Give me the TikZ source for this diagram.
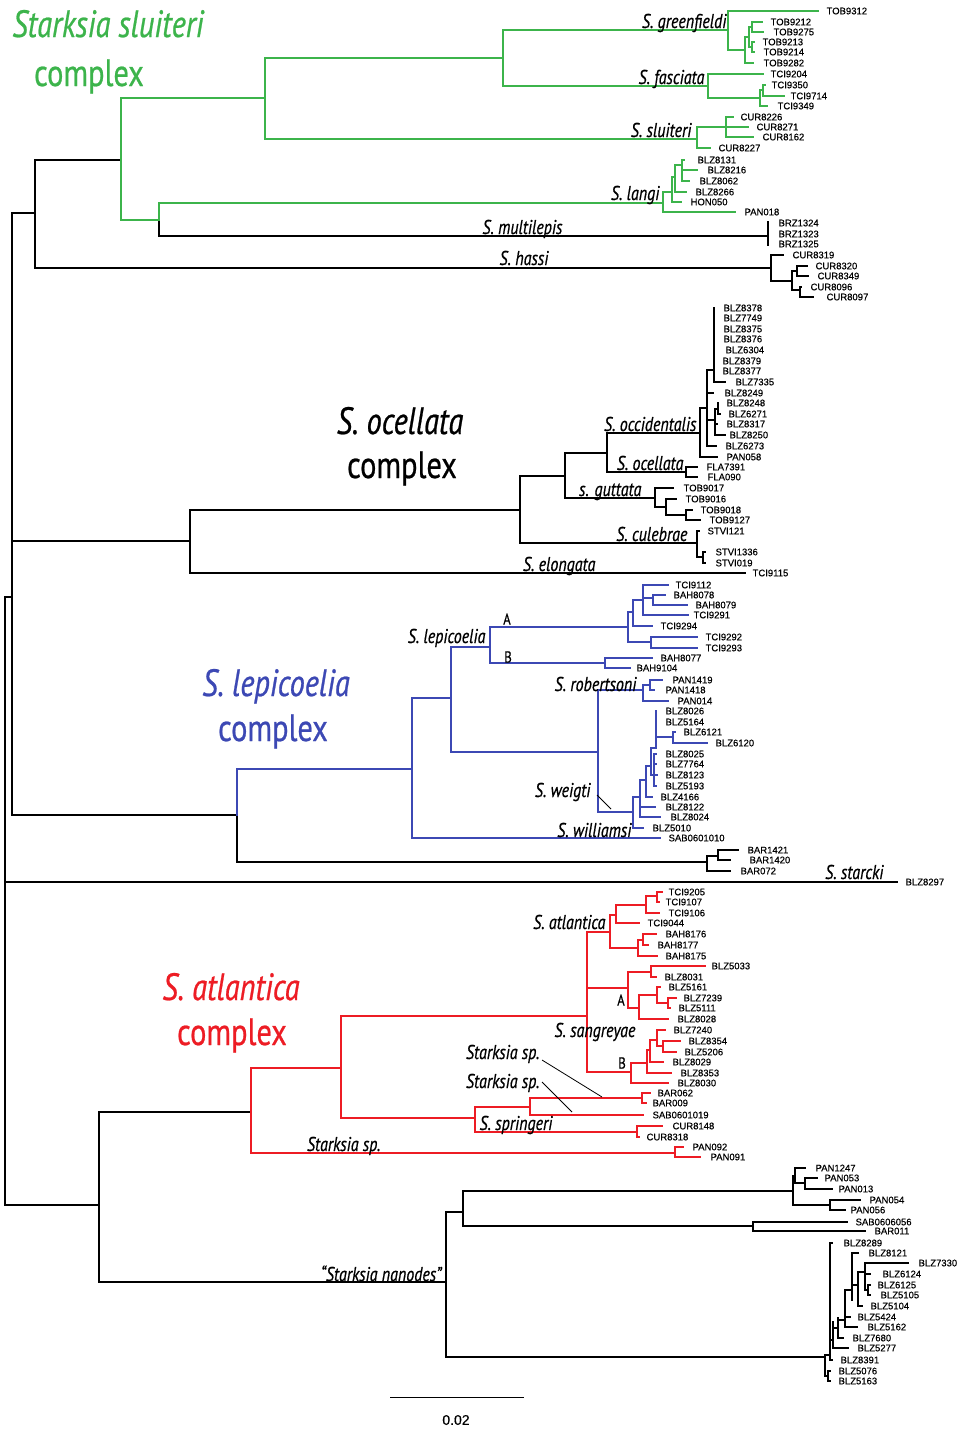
\documentclass[tikz,border=0pt]{standalone}
\usepackage{fontspec}
\newfontfamily\labfont[FakeStretch=0.8,FakeBold=0.6]{PT Sans}
\newfontfamily\tipfont[FakeBold=0.4]{Liberation Sans}
\definecolor{sgreen}{RGB}{60,180,75}
\definecolor{sblue}{RGB}{60,72,180}
\definecolor{sred}{RGB}{237,28,36}
\newcommand\brH[3]{\draw (#1,#3) -- (#2,#3);}
\newcommand\brV[3]{\draw (#1,#2) -- (#1,#3);}
\newcommand\brT[5]{\draw (#1,#2) -- (#3,#2); \node[tl] at (#4,#2) {#5};}
\newcommand\spl[3]{\node[splab] at (#1,#2) {#3};}
\begin{document}
\begin{tikzpicture}[x=1pt,y=-1pt,line width=1.2pt,line cap=rect,
  tl/.style={anchor=west,inner sep=0pt,text=black,font=\tipfont\fontsize{9.5}{10}\selectfont},
  splab/.style={anchor=base east,inner sep=0pt,text=black,font=\labfont\itshape\fontsize{20}{22}\selectfont},
  cplx/.style={anchor=base,inner sep=0pt,font=\labfont\fontsize{38}{40}\selectfont},
  ann/.style={line width=0.8pt,line cap=butt}]
\fill[white] (0,0) rectangle (963,1435);
\useasboundingbox (0,0) rectangle (963,1435);

% ---------- trunk (black)
\brV{5}{597}{1205}
\brH{5}{12}{597}
\brV{12}{213}{815}
\brH{12}{35}{213}
\brV{35}{160}{268}
\brH{35}{121}{160}
\brV{159}{220}{236}
\brH{159}{768}{236}
\brV{768}{222}{245}
\node[tl] at (778,223) {BRZ1324};
\node[tl] at (778,234) {BRZ1323};
\node[tl] at (778,244) {BRZ1325};
\brH{35}{771}{268}
\brV{771}{255}{281}
\brT{771}{255}{783}{792}{CUR8319}
\brH{771}{792}{281}
\brV{792}{271}{290}
\brH{792}{797}{271}
\brV{797}{266}{276}
\brT{797}{266}{807}{815}{CUR8320}
\brT{797}{276}{808}{817}{CUR8349}
\brH{792}{800}{290}
\brV{800}{287}{297}
\brT{800}{287}{801}{810}{CUR8096}
\brT{800}{297}{813}{826}{CUR8097}

% ---------- green clade
\begin{scope}[sgreen]
\brV{121}{98}{220}
\brH{121}{265}{98}
\brV{265}{58}{139}
\brH{265}{503}{58}
\brV{503}{30}{86}
\brH{503}{728}{30}
\brV{728}{11}{50}
\brT{728}{11}{818}{826}{TOB9312}
\brH{728}{745}{50}
\brV{745}{37}{63}
\brH{745}{749}{37}
\brV{749}{27}{47}
\brH{749}{752}{27}
\brV{752}{22}{32}
\brT{752}{22}{762}{770}{TOB9212}
\brT{752}{32}{763}{773}{TOB9275}
\brH{749}{752}{47}
\brV{752}{42}{52}
\brT{752}{42}{754}{762}{TOB9213}
\brT{752}{52}{754}{763}{TOB9214}
\brT{745}{63}{753}{763}{TOB9282}
\brH{503}{708}{86}
\brV{708}{74}{98}
\brT{708}{74}{763}{770}{TCI9204}
\brH{708}{760}{98}
\brV{760}{90}{106}
\brH{760}{763}{90}
\brV{763}{85}{96}
\brT{763}{85}{765}{771}{TCI9350}
\brT{763}{96}{784}{790}{TCI9714}
\brT{760}{106}{767}{777}{TCI9349}
\brH{265}{697}{139}
\brV{697}{127}{148}
\brH{697}{726}{127}
\brV{726}{117}{137}
\brT{726}{117}{733}{740}{CUR8226}
\brT{726}{127}{748}{756}{CUR8271}
\brT{726}{137}{753}{762}{CUR8162}
\brT{697}{148}{710}{718}{CUR8227}
\brH{121}{159}{220}
\brV{159}{203}{220}
\brH{159}{663}{203}
\brV{663}{192}{212}
\brT{663}{212}{735}{744}{PAN018}
\brH{663}{672}{192}
\brV{672}{177}{202}
\brT{672}{202}{681}{690}{HON050}
\brH{672}{675}{177}
\brV{675}{165}{192}
\brT{675}{192}{686}{695}{BLZ8266}
\brH{675}{682}{165}
\brV{682}{160}{181}
\brT{682}{160}{684}{697}{BLZ8131}
\brT{682}{170}{697}{707}{BLZ8216}
\brT{682}{181}{689}{699}{BLZ8062}
\end{scope}

% ---------- ocellata complex (black)
\brH{12}{190}{541}
\brV{190}{510}{573}
\brT{190}{573}{745}{752}{TCI9115}
\brH{190}{520}{510}
\brV{520}{476}{543}
\brH{520}{697}{543}
\brV{697}{531}{557}
\brT{697}{531}{699}{707}{STVI121}
\brH{697}{703}{557}
\brV{703}{552}{563}
\brT{703}{552}{705}{715}{STVI1336}
\brT{703}{563}{705}{715}{STVI019}
\brH{520}{565}{476}
\brV{565}{453}{498}
\brH{565}{655}{498}
\brV{655}{488}{507}
\brT{655}{488}{673}{683}{TOB9017}
\brH{655}{666}{507}
\brV{666}{499}{515}
\brT{666}{499}{676}{685}{TOB9016}
\brH{666}{686}{515}
\brV{686}{510}{520}
\brT{686}{510}{692}{700}{TOB9018}
\brT{686}{520}{700}{709}{TOB9127}
\brH{565}{607}{453}
\brV{607}{433}{472}
\brH{607}{686}{472}
\brV{686}{467}{477}
\brT{686}{467}{697}{706}{FLA7391}
\brT{686}{477}{697}{707}{FLA090}
\brH{607}{700}{433}
\brV{700}{408}{457}
\brT{700}{457}{717}{726}{PAN058}
\brH{700}{707}{408}
\brV{707}{370}{446}
\brH{707}{714}{370}
\brV{714}{308}{382}
\brT{714}{308}{714}{723}{BLZ8378}
\brT{714}{318}{714}{723}{BLZ7749}
\brT{714}{329}{714}{723}{BLZ8375}
\brT{714}{339}{714}{723}{BLZ8376}
\brT{714}{350}{714}{725}{BLZ6304}
\brT{714}{361}{714}{722}{BLZ8379}
\brT{714}{371}{714}{722}{BLZ8377}
\brT{714}{382}{725}{735}{BLZ7335}
\brT{707}{393}{713}{724}{BLZ8249}
\brH{707}{715}{420}
\brV{715}{409}{435}
\brH{715}{718}{409}
\brV{718}{403}{414}
\brT{718}{403}{718}{726}{BLZ8248}
\brT{718}{414}{720}{728}{BLZ6271}
\brT{715}{424}{717}{726}{BLZ8317}
\brT{715}{435}{725}{729}{BLZ8250}
\brT{707}{446}{716}{725}{BLZ6273}

% ---------- lepicoelia complex
\brH{12}{237}{815}
\brV{237}{815}{862}
\brH{237}{707}{862}
\brV{707}{856}{871}
\brH{707}{718}{856}
\brV{718}{850}{860}
\brT{718}{850}{738}{747}{BAR1421}
\brT{718}{860}{730}{749}{BAR1420}
\brT{707}{871}{730}{740}{BAR072}
\begin{scope}[sblue]
\brV{237}{769}{815}
\brH{237}{412}{769}
\brV{412}{698}{838}
\brT{412}{838}{660}{668}{SAB0601010}
\brH{412}{451}{698}
\brV{451}{647}{752}
\brH{451}{598}{752}
\brV{598}{690}{812}
\brH{598}{643}{690}
\brV{643}{685}{701}
\brH{643}{650}{685}
\brV{650}{680}{690}
\brT{650}{680}{662}{672}{PAN1419}
\brT{650}{690}{654}{665}{PAN1418}
\brT{643}{701}{668}{677}{PAN014}
\brH{598}{633}{812}
\brV{633}{797}{828}
\brT{633}{828}{643}{652}{BLZ5010}
\brH{633}{640}{797}
\brV{640}{780}{817}
\brT{640}{807}{655}{665}{BLZ8122}
\brT{640}{817}{660}{670}{BLZ8024}
\brH{640}{646}{780}
\brV{646}{766}{797}
\brT{646}{797}{652}{660}{BLZ4166}
\brH{646}{651}{766}
\brV{651}{748}{775}
\brH{651}{656}{748}
\brV{656}{711}{748}
\brT{656}{711}{656}{665}{BLZ8026}
\brT{656}{722}{656}{665}{BLZ5164}
\brH{656}{673}{737}
\brV{673}{732}{743}
\brT{673}{732}{675}{683}{BLZ6121}
\brT{673}{743}{707}{715}{BLZ6120}
\brH{651}{654}{775}
\brV{654}{754}{786}
\brT{654}{754}{656}{665}{BLZ8025}
\brT{654}{764}{656}{665}{BLZ7764}
\brT{654}{775}{657}{665}{BLZ8123}
\brT{654}{786}{656}{665}{BLZ5193}
\brH{451}{490}{647}
\brV{490}{627}{663}
\brH{490}{628}{627}
\brV{628}{612}{642}
\brH{628}{633}{612}
\brV{633}{600}{626}
\brT{633}{626}{652}{660}{TCI9294}
\brH{633}{643}{600}
\brV{643}{585}{615}
\brT{643}{585}{668}{675}{TCI9112}
\brT{643}{615}{688}{693}{TCI9291}
\brH{643}{653}{598}
\brV{653}{595}{605}
\brT{653}{595}{665}{673}{BAH8078}
\brT{653}{605}{687}{695}{BAH8079}
\brH{628}{651}{642}
\brV{651}{637}{648}
\brT{651}{637}{697}{705}{TCI9292}
\brT{651}{648}{697}{705}{TCI9293}
\brH{490}{605}{663}
\brV{605}{658}{668}
\brT{605}{658}{652}{660}{BAH8077}
\brT{605}{668}{630}{636}{BAH9104}
\end{scope}

% ---------- starcki
\brT{5}{882}{897}{905}{BLZ8297}

% ---------- bottom trunk
\brH{5}{99}{1205}
\brV{99}{1112}{1282}
\brH{99}{251}{1112}

% ---------- atlantica complex (red)
\begin{scope}[sred]
\brV{251}{1068}{1153}
\brH{251}{675}{1153}
\brV{675}{1147}{1157}
\brT{675}{1147}{683}{692}{PAN092}
\brT{675}{1157}{700}{710}{PAN091}
\brH{251}{341}{1068}
\brV{341}{1016}{1118}
\brH{341}{475}{1118}
\brV{475}{1107}{1132}
\brH{475}{530}{1107}
\brV{530}{1098}{1115}
\brH{530}{642}{1098}
\brV{642}{1093}{1103}
\brT{642}{1093}{650}{657}{BAR062}
\brT{642}{1103}{646}{652}{BAR009}
\brT{530}{1115}{643}{652}{SAB0601019}
\brH{475}{637}{1132}
\brV{637}{1126}{1137}
\brT{637}{1126}{662}{672}{CUR8148}
\brT{637}{1137}{639}{646}{CUR8318}
\brH{341}{587}{1016}
\brV{587}{932}{1072}
\brH{587}{610}{932}
\brV{610}{915}{948}
\brH{610}{616}{915}
\brV{616}{905}{923}
\brH{616}{646}{905}
\brV{646}{896}{913}
\brH{646}{657}{896}
\brV{657}{892}{902}
\brT{657}{892}{662}{668}{TCI9205}
\brT{657}{902}{659}{665}{TCI9107}
\brT{646}{913}{659}{668}{TCI9106}
\brT{616}{923}{639}{647}{TCI9044}
\brH{610}{638}{948}
\brV{638}{940}{956}
\brH{638}{643}{940}
\brV{643}{934}{945}
\brT{643}{934}{656}{665}{BAH8176}
\brT{643}{945}{648}{657}{BAH8177}
\brT{638}{956}{657}{665}{BAH8175}
\brH{587}{628}{988}
\brV{628}{972}{1008}
\brH{628}{651}{972}
\brV{651}{966}{977}
\brT{651}{966}{705}{711}{BLZ5033}
\brT{651}{977}{656}{664}{BLZ8031}
\brH{628}{639}{1008}
\brV{639}{995}{1019}
\brH{639}{657}{995}
\brV{657}{987}{1003}
\brT{657}{987}{660}{668}{BLZ5161}
\brH{657}{668}{1003}
\brV{668}{998}{1008}
\brT{668}{998}{676}{683}{BLZ7239}
\brT{668}{1008}{670}{678}{BLZ5111}
\brT{639}{1019}{668}{677}{BLZ8028}
\brH{587}{631}{1072}
\brV{631}{1063}{1083}
\brT{631}{1083}{668}{677}{BLZ8030}
\brH{631}{647}{1063}
\brV{647}{1050}{1073}
\brT{647}{1073}{671}{680}{BLZ8353}
\brH{647}{650}{1050}
\brV{650}{1040}{1062}
\brT{650}{1062}{663}{672}{BLZ8029}
\brH{650}{657}{1040}
\brV{657}{1030}{1046}
\brT{657}{1030}{665}{673}{BLZ7240}
\brH{657}{663}{1046}
\brV{663}{1041}{1052}
\brT{663}{1041}{680}{688}{BLZ8354}
\brT{663}{1052}{676}{684}{BLZ5206}
\end{scope}

% ---------- nanodes (black)
\brH{99}{446}{1282}
\brV{446}{1212}{1357}
\brH{446}{463}{1212}
\brV{463}{1191}{1226}
\brH{463}{793}{1191}
\brV{793}{1176}{1205}
\brH{793}{795}{1176}
\brV{795}{1168}{1183}
\brT{795}{1168}{805}{815}{PAN1247}
\brH{795}{805}{1183}
\brV{805}{1178}{1189}
\brT{805}{1178}{817}{824}{PAN053}
\brT{805}{1189}{832}{838}{PAN013}
\brH{793}{830}{1205}
\brV{830}{1200}{1210}
\brT{830}{1200}{860}{869}{PAN054}
\brT{830}{1210}{845}{850}{PAN056}
\brH{463}{753}{1226}
\brV{753}{1222}{1231}
\brT{753}{1222}{847}{855}{SAB0606056}
\brT{753}{1231}{865}{874}{BAR011}
\brH{446}{825}{1357}
\brV{825}{1355}{1376}
\brH{825}{828}{1376}
\brV{828}{1371}{1381}
\brT{828}{1371}{830}{838}{BLZ5076}
\brT{828}{1381}{830}{838}{BLZ5163}
\brH{825}{830}{1355}
\brV{830}{1243}{1360}
\brT{830}{1243}{832}{843}{BLZ8289}
\brT{830}{1360}{832}{840}{BLZ8391}
\brH{830}{833}{1340}
\brV{833}{1322}{1348}
\brT{833}{1348}{848}{857}{BLZ5277}
\brH{833}{838}{1328}
\brV{838}{1318}{1338}
\brT{838}{1338}{843}{852}{BLZ7680}
\brH{838}{845}{1320}
\brV{845}{1290}{1327}
\brT{845}{1327}{857}{867}{BLZ5162}
\brT{845}{1317}{850}{857}{BLZ5424}
\brH{845}{852}{1290}
\brV{852}{1253}{1300}
\brT{852}{1253}{858}{868}{BLZ8121}
\brH{852}{858}{1285}
\brV{858}{1272}{1306}
\brT{858}{1306}{862}{870}{BLZ5104}
\brH{858}{865}{1272}
\brV{865}{1263}{1290}
\brT{865}{1263}{908}{918}{BLZ7330}
\brT{865}{1274}{870}{882}{BLZ6124}
\brH{865}{868}{1290}
\brV{868}{1285}{1295}
\brT{868}{1285}{870}{877}{BLZ6125}
\brT{868}{1295}{870}{880}{BLZ5105}

% ---------- scale bar
\draw[line width=1pt] (390,1397) -- (523,1397);
\node[font=\tipfont\fontsize{14}{16}\selectfont,inner sep=0pt] at (456,1420) {0.02};

% ---------- species labels
\spl{727}{28}{S. greenfieldi}
\spl{705}{84}{S. fasciata}
\spl{692}{137}{S. sluiteri}
\spl{660}{200}{S. langi}
\spl{563}{234}{S. multilepis}
\spl{549}{265}{S. hassi}
\spl{697}{431}{S. occidentalis}
\spl{684}{470}{S. ocellata}
\spl{642}{496}{s. guttata}
\spl{688}{541}{S. culebrae}
\spl{596}{571}{S. elongata}
\spl{486}{643}{S. lepicoelia}
\spl{637}{691}{S. robertsoni}
\spl{591}{797}{S. weigti}
\spl{632}{837}{S. williamsi}
\spl{884}{879}{S. starcki}
\spl{606}{929}{S. atlantica}
\spl{636}{1037}{S. sangreyae}
\spl{540}{1059}{Starksia sp.}
\spl{540}{1088}{Starksia sp.}
\spl{553}{1130}{S. springeri}
\spl{381}{1151}{Starksia sp.}
\spl{442}{1281}{“Starksia nanodes”}
\node[font=\labfont\fontsize{16}{18}\selectfont,inner sep=0pt] at (507,619) {A};
\node[font=\labfont\fontsize{16}{18}\selectfont,inner sep=0pt] at (508,657) {B};
\node[font=\labfont\fontsize{16}{18}\selectfont,inner sep=0pt] at (621,1000) {A};
\node[font=\labfont\fontsize{16}{18}\selectfont,inner sep=0pt] at (622,1063) {B};
\draw[ann] (597,795) -- (611,809);
\draw[ann] (542,1060) -- (602,1097);
\draw[ann] (542,1082) -- (572,1112);

% ---------- complex labels
\node[cplx,text=sgreen] at (108,37) {\itshape Starksia sluiteri};
\node[cplx,text=sgreen] at (89,86) {complex};
\node[cplx,text=black] at (400,434) {\itshape S. ocellata};
\node[cplx,text=black] at (402,478) {complex};
\node[cplx,text=sblue] at (276,696) {\itshape S. lepicoelia};
\node[cplx,text=sblue] at (273,741) {complex};
\node[cplx,text=sred] at (231,1000) {\itshape S. atlantica};
\node[cplx,text=sred] at (232,1045) {complex};
\end{tikzpicture}
\end{document}
